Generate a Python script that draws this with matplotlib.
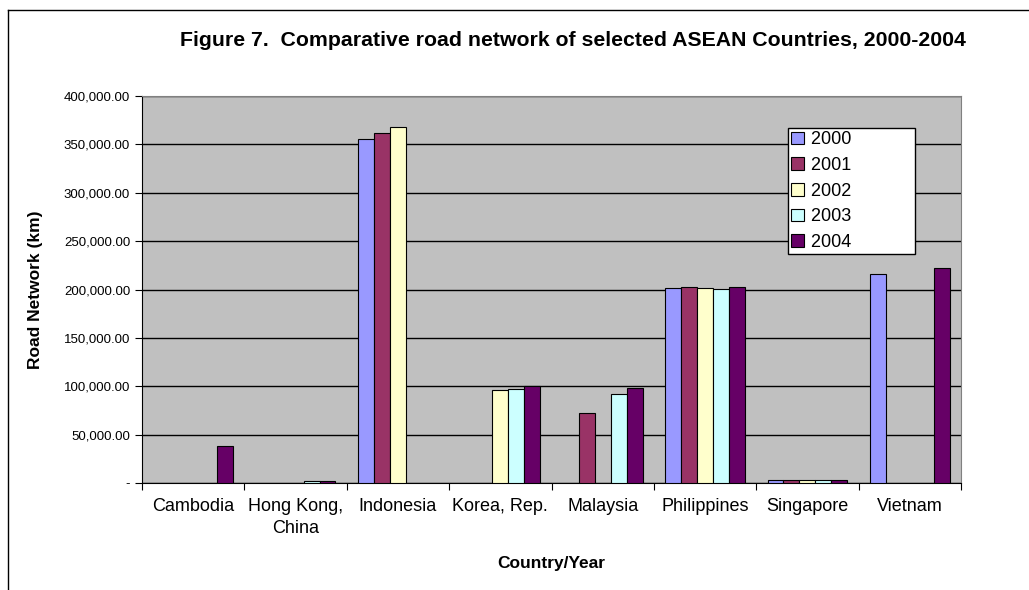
import matplotlib.pyplot as plt
from matplotlib.lines import Line2D
from matplotlib.ticker import FuncFormatter
import numpy as np

plt.rcParams['font.family'] = ['Liberation Sans', 'DejaVu Sans']

paises = ["Cambodia", "Hong Kong,\nChina", "Indonesia", "Korea, Rep.",
          "Malaysia", "Philippines", "Singapore", "Vietnam"]
anios = ["2000", "2001", "2002", "2003", "2004"]
colores = ["#9999FF", "#993366", "#FFFFCC", "#CCFFFF", "#660066"]

# valores por anio (km); None = sin dato
v2000 = [None, None, 355951, None, None, 201994, 3066, 215628]
v2001 = [None, None, 361782, None, 72000, 202124, 3122, None]
v2002 = [None, None, 368360, 96037, None, 201760, 3130, None]
v2003 = [None, 1934, None, 97252, 92000, 200037, 3165, None]
v2004 = [38257, 1955, None, 100279, 98700, 202860, 3188, 222179]
series = [v2000, v2001, v2002, v2003, v2004]

fig = plt.figure(figsize=(10.29, 5.9), dpi=100)
ax = fig.add_axes([142 / 1029, 1 - 483 / 590, (961 - 142) / 1029, (483 - 96) / 590])
ax.set_facecolor("#C0C0C0")

x = np.arange(len(paises))
ancho = 0.156
for i, (vals, col, anio) in enumerate(zip(series, colores, anios)):
    pos = [x[j] + (i - 2) * ancho for j in range(len(vals)) if vals[j] is not None]
    alt = [v for v in vals if v is not None]
    ax.bar(pos, alt, width=ancho, color=col, edgecolor="black", linewidth=0.8,
           label=anio + " " * 12, zorder=3)

ax.set_xlim(-0.5, len(paises) - 0.5)
ax.set_ylim(0, 400000)
ax.set_yticks(np.arange(0, 400001, 50000))
ax.yaxis.set_major_formatter(FuncFormatter(lambda v, p: "-" if v == 0 else f"{v:,.2f}"))
ax.grid(axis="y", color="black", linewidth=1, zorder=1)
ax.set_xticks(np.arange(-0.5, len(paises)), minor=False)
ax.set_xticklabels([])
ax.set_xticks(x, minor=True)
ax.set_xticklabels(paises, minor=True, fontsize=13, linespacing=1.35)
ax.tick_params(axis="x", which="minor", length=0, pad=11)
ax.tick_params(axis="x", which="major", length=5, direction="out")
ax.tick_params(axis="y", labelsize=9.5, length=5)
for s in ax.spines.values():
    s.set_color("#808080")
ax.spines["left"].set_color("black")
ax.spines["bottom"].set_color("black")

ax.set_ylabel("Road Network (km)", fontsize=12.5, fontweight="bold", labelpad=15)
ax.set_xlabel("Country/Year", fontsize=12.5, fontweight="bold", labelpad=14)
fig.text(573 / 1029, 1 - 40 / 590, "Figure 7.  Comparative road network of selected ASEAN Countries, 2000-2004",
         ha="center", va="center", fontsize=15.3, fontweight="bold")

leg = ax.legend(loc="upper left", bbox_to_anchor=((788 - 142) / 819, 1 - (128 - 96) / 387),
                fontsize=13, frameon=True, fancybox=False, edgecolor="black",
                facecolor="white", framealpha=1,
                handlelength=0.7, handleheight=0.7, handletextpad=0.4, borderpad=0.18,
                labelspacing=0.48, borderaxespad=0)
leg.get_frame().set_linewidth(1)
leg.set_zorder(5)

# marco exterior
fig.add_artist(Line2D([8 / 1029, 8 / 1029], [0, 1 - 10 / 590], color="black", linewidth=1))
fig.add_artist(Line2D([8 / 1029, 1], [1 - 10 / 590, 1 - 10 / 590], color="black", linewidth=1))

fig.savefig("out.png", dpi=100)
